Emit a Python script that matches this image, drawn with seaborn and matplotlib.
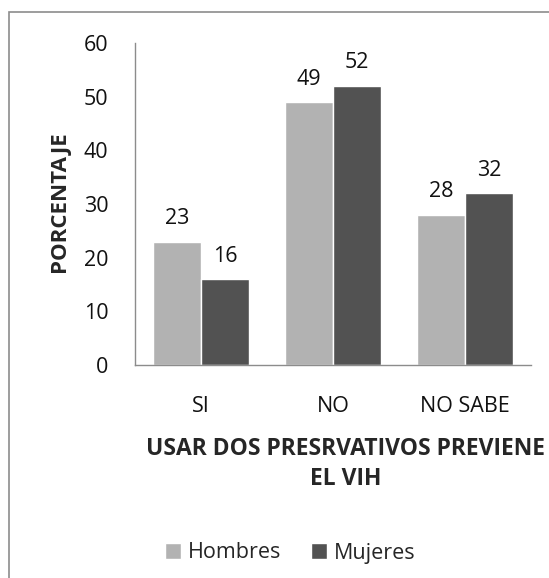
import matplotlib
matplotlib.use("Agg")
import matplotlib.pyplot as plt
import seaborn as sns
import pandas as pd
from matplotlib.patches import Rectangle

categories = ["SI", "NO", "NO SABE"]
hombres = [23, 49, 28]
mujeres = [16, 52, 32]
series = ["Hombres", "Mujeres"]
yticks = [0, 10, 20, 30, 40, 50, 60]

df = pd.DataFrame({
    "cat": categories * 2,
    "val": hombres + mujeres,
    "grupo": [series[0]] * 3 + [series[1]] * 3,
})

sns.set_theme(style="white")
plt.rcParams["font.family"] = ["Open Sans", "DejaVu Sans"]

W, H = 549, 578
fig = plt.figure(figsize=(W / 100, H / 100), dpi=100)
L, R, T, B = 135, 531, 43, 365
ax = fig.add_axes([L / W, 1 - B / H, (R - L) / W, (B - T) / H])

sns.barplot(data=df, x="cat", y="val", hue="grupo", order=categories,
            hue_order=series, palette=["#B2B2B2", "#525252"],
            width=0.727, saturation=1, ax=ax, legend=True)

for cont in ax.containers:
    ax.bar_label(cont, fmt="%g", padding=9, fontsize=15.5, color="#111111")

ax.set_ylim(0, 60)
ax.set_yticks(yticks)
ax.tick_params(axis="y", length=0, pad=19, labelsize=15.5, colors="#111111")
ax.tick_params(axis="x", length=0, pad=22, labelsize=15.5, colors="#111111")
for s in ["top", "right"]:
    ax.spines[s].set_visible(False)
for s in ["left", "bottom"]:
    ax.spines[s].set_color("#8C8C8C")
    ax.spines[s].set_linewidth(1.0)

ax.set_ylabel("PORCENTAJE", fontsize=16, fontweight="bold")
ax.yaxis.label.set_va("center")
ax.yaxis.set_label_coords((59 - L) / (R - L), 1 - (202 - T) / (B - T))

ax.set_xlabel("USAR DOS PRESRVATIVOS PREVIENE\nEL VIH", fontsize=16.5,
              fontweight="bold", linespacing=1.3)
ax.xaxis.label.set_va("center")
ax.xaxis.set_label_coords((346 - L) / (R - L), -(464 - B) / (B - T))

leg = ax.legend(loc="center", bbox_to_anchor=(290 / W, 1 - 553 / H),
                bbox_transform=fig.transFigure, ncol=2, frameon=False,
                fontsize=15.5, handlelength=0.75, handleheight=0.75,
                handletextpad=0.3, columnspacing=1.4)

fig.patches.append(Rectangle((8.5 / W, -0.1), 1.2, 1 - 12 / H + 0.1,
                             transform=fig.transFigure, fill=False,
                             edgecolor="#8C8C8C", linewidth=1.2))

fig.savefig("out.png", dpi=100)
